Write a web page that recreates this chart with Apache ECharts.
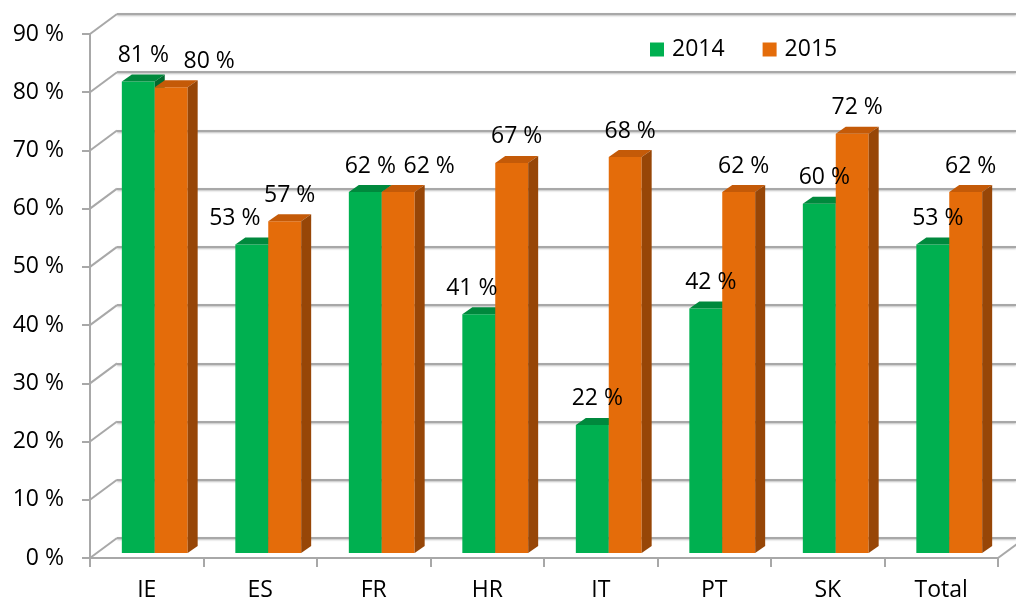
<!DOCTYPE html>
<html>
<head>
<meta charset="utf-8">
<script src="https://cdn.jsdelivr.net/npm/echarts@6/dist/echarts.min.js"></script>
<style>
html,body{margin:0;padding:0;background:#fff;}
#chart{width:1016px;height:605px;}
</style>
</head>
<body>
<div id="chart"></div>
<script>
const categories = ['IE', 'ES', 'FR', 'HR', 'IT', 'PT', 'SK', 'Total'];
const values2014 = [81, 53, 62, 41, 22, 42, 60, 53];
const values2015 = [80, 57, 62, 67, 68, 62, 72, 62];
const yTicks = [0, 10, 20, 30, 40, 50, 60, 70, 80, 90];
const seriesNames = ['2014', '2015'];

const FONT = 'Open Sans';
const FS = 23;
const GRID_LEFT = 90, GRID_TOP = 34, GRID_W = 908, GRID_H = 524;
const DEPTH_X = 27, DEPTH_Y = -20;      // wall depth offset
const BAR_SX = 8, BAR_SY = -5;          // bar placement inside depth
const BAR_DX = 10, BAR_DY = -7;         // bar own depth
const colors = {
  '2014': { front: '#00b050', top: '#00893d', side: '#006b30' },
  '2015': { front: '#e46c0a', top: '#c45a08', side: '#974607' }
};
const labelNudge = { '2014': { ES: -22, HR: -12 }, '2015': { IE: 33, FR: 26 } };

const gridLine = { color: '#a8a8a8', width: 2, shadowColor: 'rgba(0,0,0,0.25)', shadowBlur: 2, shadowOffsetY: 1 };

function barGeom(sIdx, params, api) {
  const i = api.value(0), v = api.value(1);
  const base = api.coord([i, 0]);
  const top = api.coord([i, v]);
  const band = api.size([1, 0])[0];
  const bw = band * 0.29;
  const x0 = base[0] + BAR_SX + (sIdx === 0 ? -bw : 0);
  return { i: i, v: v, bw: bw, x0: x0, yB: base[1] + BAR_SY, yT: top[1] + BAR_SY };
}

function barRenderer(sIdx) {
  const c = colors[seriesNames[sIdx]];
  return function (params, api) {
    const g = barGeom(sIdx, params, api);
    const x0 = g.x0, bw = g.bw, yT = g.yT, yB = g.yB;
    return {
      type: 'group',
      children: [
        { type: 'rect', shape: { x: x0, y: yT, width: bw, height: yB - yT }, style: { fill: c.front } },
        { type: 'polygon', shape: { points: [[x0, yT], [x0 + bw, yT], [x0 + bw + BAR_DX, yT + BAR_DY], [x0 + BAR_DX, yT + BAR_DY]] }, style: { fill: c.top } },
        { type: 'polygon', shape: { points: [[x0 + bw, yT], [x0 + bw + BAR_DX, yT + BAR_DY], [x0 + bw + BAR_DX, yB + BAR_DY], [x0 + bw, yB]] }, style: { fill: c.side } }
      ]
    };
  };
}

function labelRenderer(sIdx) {
  const name = seriesNames[sIdx];
  return function (params, api) {
    const g = barGeom(sIdx, params, api);
    const nudge = (labelNudge[name] && labelNudge[name][categories[g.i]]) || 0;
    return {
      type: 'text',
      style: { text: g.v + ' %', x: g.x0 + g.bw / 2 + BAR_DX / 2 + nudge, y: g.yT - 26, align: 'center', verticalAlign: 'middle', fill: '#000', font: FS + 'px "' + FONT + '"' }
    };
  };
}

function wallRenderer(params, api) {
  const v = api.value(1);
  const p = api.coord([0, v]);
  const cs = params.coordSys;
  const children = [
    { type: 'line', shape: { x1: cs.x, y1: p[1], x2: cs.x + DEPTH_X, y2: p[1] + DEPTH_Y }, style: { stroke: '#a8a8a8', lineWidth: 2 } }
  ];
  if (v === 0) {
    children.push({ type: 'line', shape: { x1: cs.x + cs.width, y1: p[1], x2: cs.x + cs.width + DEPTH_X, y2: p[1] + DEPTH_Y }, style: { stroke: '#a8a8a8', lineWidth: 2 } });
  }
  return { type: 'group', children: children };
}

const chart = echarts.init(document.getElementById('chart'), null, { renderer: 'canvas' });
chart.setOption({
  animation: false,
  backgroundColor: '#ffffff',
  textStyle: { fontFamily: FONT },
  legend: {
    data: seriesNames,
    left: 645, top: 33,
    icon: 'rect', itemWidth: 14, itemHeight: 14, itemGap: 38,
    textStyle: { fontSize: FS, color: '#000', fontFamily: FONT, padding: [0, 0, 0, 3] }
  },
  grid: [
    { left: GRID_LEFT, top: GRID_TOP, width: GRID_W, height: GRID_H },
    { left: GRID_LEFT + DEPTH_X, top: GRID_TOP + DEPTH_Y, width: GRID_W, height: GRID_H }
  ],
  xAxis: [
    {
      gridIndex: 0, type: 'category', data: categories,
      axisLine: { lineStyle: { color: '#a8a8a8', width: 2 } },
      axisTick: { show: true, length: 9, lineStyle: { color: '#a8a8a8', width: 2 } },
      axisLabel: { color: '#000', fontSize: FS, fontFamily: FONT, margin: 21 },
      splitLine: { show: false }
    },
    { gridIndex: 1, type: 'category', data: categories, show: false }
  ],
  yAxis: [
    {
      gridIndex: 0, type: 'value', min: 0, max: 90, interval: 10,
      axisLine: { show: true, lineStyle: { color: '#a8a8a8', width: 2 } },
      axisTick: { show: true, length: 8, lineStyle: { color: '#a8a8a8', width: 2 } },
      axisLabel: { color: '#000', fontSize: FS, fontFamily: FONT, margin: 26, formatter: '{value} %' },
      splitLine: { show: false }
    },
    {
      gridIndex: 1, type: 'value', min: 0, max: 90, interval: 10,
      axisLine: { show: false }, axisTick: { show: false }, axisLabel: { show: false },
      splitLine: { show: true, lineStyle: gridLine }
    }
  ],
  series: [
    {
      type: 'custom', name: 'wall', xAxisIndex: 0, yAxisIndex: 0, z: 1, silent: true,
      renderItem: wallRenderer,
      data: yTicks.map(t => [0, t])
    },
    {
      type: 'custom', name: seriesNames[0], xAxisIndex: 0, yAxisIndex: 0, z: 5,
      itemStyle: { color: colors['2014'].front },
      renderItem: barRenderer(0),
      data: values2014.map((v, i) => [i, v])
    },
    {
      type: 'custom', name: seriesNames[1], xAxisIndex: 0, yAxisIndex: 0, z: 6,
      itemStyle: { color: colors['2015'].front },
      renderItem: barRenderer(1),
      data: values2015.map((v, i) => [i, v])
    },
    {
      type: 'custom', name: 'labels2014', xAxisIndex: 0, yAxisIndex: 0, z: 10, silent: true,
      renderItem: labelRenderer(0),
      data: values2014.map((v, i) => [i, v])
    },
    {
      type: 'custom', name: 'labels2015', xAxisIndex: 0, yAxisIndex: 0, z: 10, silent: true,
      renderItem: labelRenderer(1),
      data: values2015.map((v, i) => [i, v])
    }
  ]
});
</script>
</body>
</html>
